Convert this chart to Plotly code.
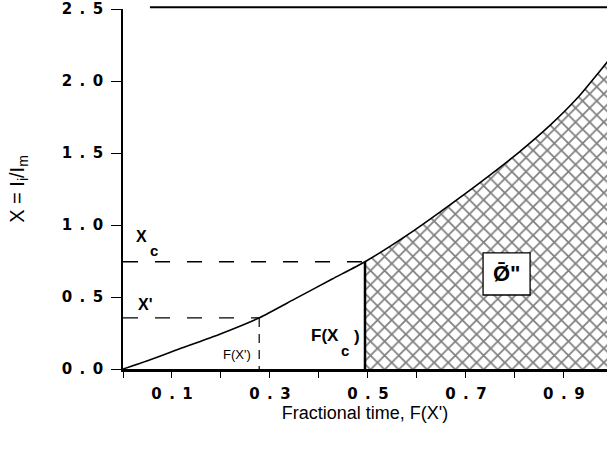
import plotly.graph_objects as go

# Data
F_vals = [0, 0.05, 0.11, 0.2, 0.278, 0.35, 0.427, 0.494, 0.58, 0.647, 0.735, 0.81, 0.871, 0.927, 0.988, 1.0]
X_vals = [0, 0.058, 0.133, 0.245, 0.355, 0.485, 0.625, 0.745, 0.93, 1.09, 1.31, 1.51, 1.69, 1.88, 2.13, 2.18]
F_prime, X_prime = 0.278, 0.355
F_c, X_c = 0.494, 0.745
x_tick_vals = [0.1, 0.3, 0.5, 0.7, 0.9]
x_tick_text = ["0\u2002.\u20021", "0\u2002.\u20023", "0\u2002.\u20025", "0\u2002.\u20027", "0\u2002.\u20029"]
y_tick_vals = [0.0, 0.5, 1.0, 1.5, 2.0, 2.5]
y_tick_text = ["0\u2002.\u20020", "0\u2002.\u20025", "1\u2002.\u20020", "1\u2002.\u20025", "2\u2002.\u20020", "2\u2002.\u20025"]

fig = go.Figure()

# hatched region (F >= F_c)
hx = [f for f in F_vals if f >= F_c]
hy = [X_vals[F_vals.index(f)] for f in hx]
fig.add_trace(go.Scatter(
    x=hx, y=hy, mode="lines", fill="tozeroy",
    line=dict(color="black", width=0),
    fillcolor="white",
    fillpattern=dict(shape="x", size=10, solidity=0.32, fgcolor="black", bgcolor="white"),
    hoverinfo="skip", showlegend=False))

# main curve
fig.add_trace(go.Scatter(x=F_vals, y=X_vals, mode="lines", line_shape="spline",
                         line=dict(color="black", width=1.6, smoothing=0.6), showlegend=False))

# dashed guide lines
fig.add_trace(go.Scatter(x=[0, F_c], y=[X_c, X_c], mode="lines",
                         line=dict(color="black", width=1.4, dash="15px,17px"), showlegend=False))
fig.add_trace(go.Scatter(x=[0, F_prime], y=[X_prime, X_prime], mode="lines",
                         line=dict(color="black", width=1.4, dash="15px,17px"), showlegend=False))
fig.add_trace(go.Scatter(x=[F_prime, F_prime], y=[X_prime, 0], mode="lines",
                         line=dict(color="black", width=1.2, dash="9px,7px"), showlegend=False))
# solid vertical at F(Xc)
fig.add_trace(go.Scatter(x=[F_c, F_c], y=[X_c, 0], mode="lines",
                         line=dict(color="black", width=2.5), showlegend=False))

# top frame line (partial)
fig.add_shape(type="line", xref="x", yref="paper", x0=0.055, x1=1.0, y0=1.005, y1=1.005,
              line=dict(color="black", width=2))

# box with phi label
fig.add_shape(type="rect", xref="x", yref="y", x0=0.735, x1=0.831, y0=0.514, y1=0.806,
              line=dict(color="black", width=1.3), fillcolor="white")
fig.add_annotation(x=0.783, y=0.66, xref="x", yref="y", text="<b>Ø\u0304\"</b>", showarrow=False,
                   font=dict(family="Liberation Sans", size=22, color="black"))

lbl_font = dict(family="Liberation Sans", size=16, color="black")
sub_font = dict(family="Liberation Sans", size=15, color="black")
# X_c label
fig.add_annotation(x=0.037, y=0.92, xref="x", yref="y", text="<b>X</b>", showarrow=False, font=lbl_font)
fig.add_annotation(x=0.064, y=0.82, xref="x", yref="y", text="<b>c</b>", showarrow=False, font=sub_font)
# X' label
fig.add_annotation(x=0.045, y=0.45, xref="x", yref="y", text="<b>X'</b>", showarrow=False, font=lbl_font)
# F(X') label
fig.add_annotation(x=0.233, y=0.1, xref="x", yref="y", text="F(X')", showarrow=False,
                   font=dict(family="Liberation Sans", size=13, color="black"))
# F(Xc) label
fig.add_annotation(x=0.413, y=0.23, xref="x", yref="y", text="<b>F(X</b>", showarrow=False,
                   font=dict(family="Liberation Sans", size=17, color="black"))
fig.add_annotation(x=0.454, y=0.13, xref="x", yref="y", text="<b>c</b>", showarrow=False, font=sub_font)
fig.add_annotation(x=0.478, y=0.225, xref="x", yref="y", text="<b>)</b>", showarrow=False,
                   font=dict(family="Liberation Sans", size=17, color="black"))

tick_font = dict(family="DejaVu Sans", size=15, color="black", weight="bold")

fig.update_layout(
    width=607, height=449,
    margin=dict(l=123, r=0, t=9, b=80, autoexpand=False),
    paper_bgcolor="white", plot_bgcolor="white",
    xaxis=dict(range=[0, 0.988], tickmode="array", tickvals=x_tick_vals, ticktext=x_tick_text,
               automargin=False,
               ticks="outside", ticklen=6, tickwidth=1.3, tickcolor="black",
               minor=dict(tickvals=[0, 0.2, 0.4, 0.6, 0.8], ticks="outside", ticklen=6, tickwidth=1.3, tickcolor="black"),
               showline=True, linecolor="black", linewidth=2.5, showgrid=False, zeroline=False,
               tickfont=tick_font, ticklabelstandoff=3,
               title=dict(text="Fractional time, F(X')", font=dict(family="Liberation Sans", size=18, color="black"),
                          standoff=5)),
    yaxis=dict(range=[0, 2.5], tickmode="array", tickvals=y_tick_vals, ticktext=y_tick_text,
               automargin=False, ticklabeloverflow="allow",
               ticks="outside", ticklen=10, tickwidth=1.3, tickcolor="black",
               showline=True, linecolor="black", linewidth=1.5, showgrid=False, zeroline=False,
               tickfont=tick_font, ticklabelstandoff=5,
               title=dict(text="X = I<sub>i</sub>/I<sub>m</sub>", font=dict(family="Liberation Sans", size=20, color="black"),
                          standoff=32)),
)

fig.write_html("out.html", config={"displayModeBar": False},
               post_script="document.body.style.margin='0';")
